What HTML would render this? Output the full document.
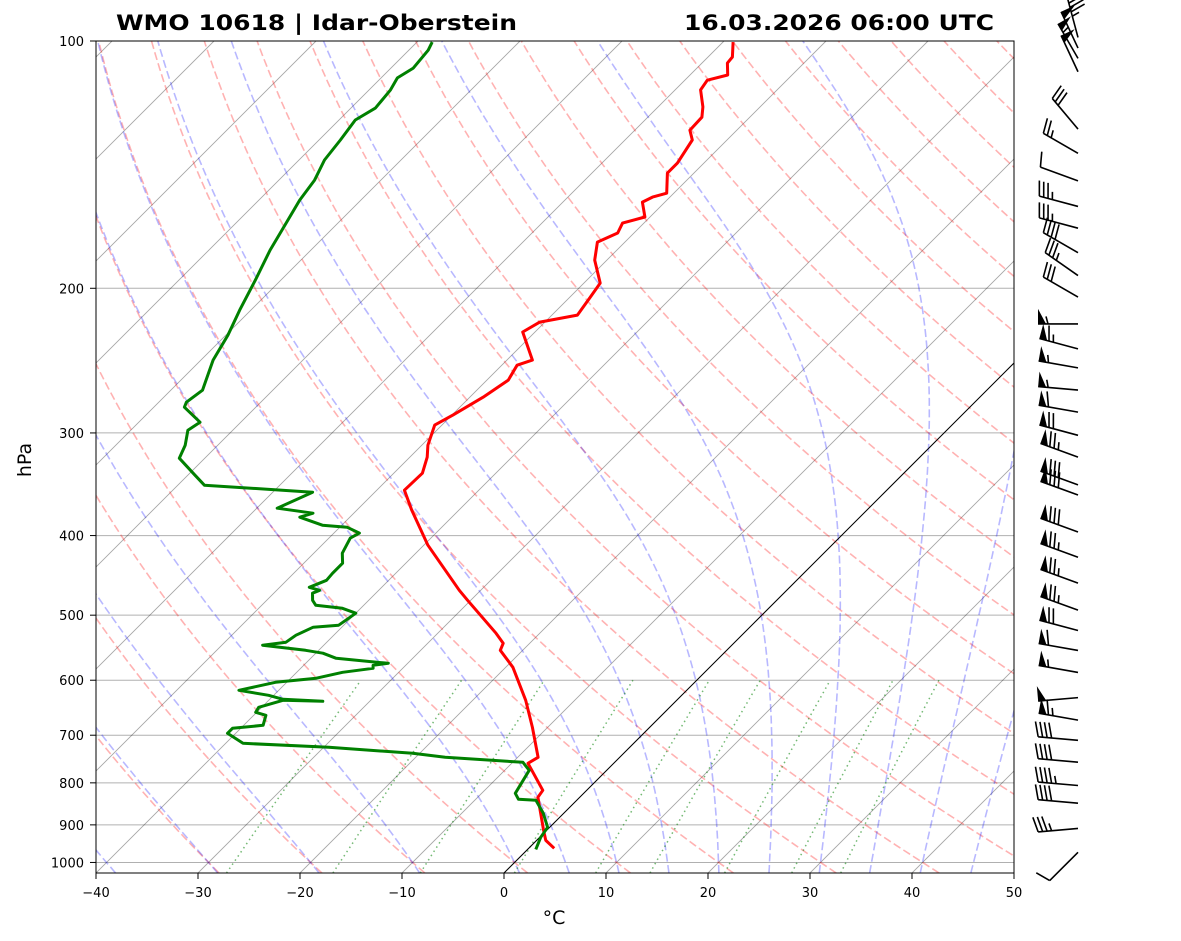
<!DOCTYPE html>
<html><head><meta charset="utf-8">
<style>
html,body{margin:0;padding:0;background:#fff;}
svg{display:block;font-family:"DejaVu Sans","Liberation Sans",sans-serif;}
</style></head>
<body>
<svg id="chart" width="1181" height="941" viewBox="0 0 1181 941" xmlns="http://www.w3.org/2000/svg">
<defs><clipPath id="plotclip"><rect x="96" y="41" width="918" height="832"/></clipPath></defs>
<rect x="0" y="0" width="1181" height="941" fill="#fff"/>
<text x="116" y="30" font-size="21" font-weight="bold" textLength="401" lengthAdjust="spacingAndGlyphs">WMO 10618 | Idar-Oberstein</text>
<text x="684" y="30" font-size="21" font-weight="bold" textLength="310" lengthAdjust="spacingAndGlyphs">16.03.2026 06:00 UTC</text>
<g id="bg" clip-path="url(#plotclip)"></g>
<g id="series" clip-path="url(#plotclip)"></g>
<rect x="96" y="41" width="918" height="832" fill="none" stroke="#000" stroke-width="1"/>
<g id="axes"></g>
<g id="barbs"></g>
<text x="554" y="924" font-size="19" text-anchor="middle">°C</text>
<text x="31" y="460" font-size="19" text-anchor="middle" transform="rotate(-90 31 460)">hPa</text>
</svg>
<script>
// ---- data ----
const tempP=[100.3,104.6,106.4,110.0,111.6,114.7,120.3,123.8,128.4,132.0,140.8,144.8,153.2,154.9,157.1,163.8,166.6,171.3,175.7,184.8,197.1,205.0,215.6,219.9,226.1,244.6,248.1,258.7,271.4,285.4,293.5,310.5,321.1,335.8,352.2,372.6,410.9,466.3,479.6,525.9,541.0,551.7,578.6,634.8,684.7,744.8,757.4,817,833,914,940,961];
const tempT=[-59.0,-57.6,-57.5,-56.3,-57.8,-57.5,-55.6,-54.7,-54.6,-53.4,-52.6,-52.6,-50.7,-51.7,-52.2,-50.5,-52.1,-51.6,-52.7,-51.2,-48.4,-48.0,-47.5,-50.5,-51.2,-47.5,-48.5,-47.9,-48.7,-49.9,-50.7,-49.4,-48.3,-47.2,-47.3,-44.6,-39.6,-32.1,-30.3,-24.3,-22.6,-22.2,-19.3,-14.8,-11.5,-8.0,-8.4,-4.3,-4.1,-0.3,0.9,2.5];
const dewP=[100.3,102.6,107.9,110.9,114.7,120.7,124.8,132.0,139.6,147.7,156.2,167.5,179.7,195.5,212.6,228.1,244.6,266.1,275.2,279.1,291.1,297.7,310.5,322.0,337.7,347.3,354.2,370.5,375.7,379.9,388.6,390.7,397.3,402.9,420.3,432.2,444.6,453.4,462.4,466.3,470.2,479.6,486.3,490.4,497.3,504.3,514.3,517.2,528.9,539.4,543.9,551.7,556.3,564.2,572.2,575.4,580.3,586.8,596.7,603.5,617.2,625.9,632.9,636.5,634.8,647.3,656.5,662.0,680.8,686.6,696.3,716.1,724.2,736.4,744.8,755.3,772.4,823.9,837.8,840.2,871.4,906.2,932,964];
const dewT=[-88.5,-88.1,-87.8,-88.4,-87.9,-87.6,-88.4,-87.9,-87.5,-86.5,-86.0,-85.0,-84.0,-82.5,-81.1,-79.8,-78.8,-76.9,-77.3,-77.0,-74.0,-74.4,-73.2,-72.5,-69.3,-67.4,-56.1,-58.0,-54.0,-54.9,-51.9,-49.3,-47.5,-47.9,-47.2,-46.2,-46.2,-46.1,-47.1,-45.8,-46.2,-45.5,-44.7,-41.8,-40.0,-40.2,-40.5,-42.8,-43.7,-44.0,-46.0,-41.3,-39.3,-37.5,-31.9,-33.2,-32.9,-35.5,-37.5,-41.1,-43.9,-40.5,-38.7,-34.6,-38.6,-40.3,-40.1,-38.8,-38.1,-40.8,-40.8,-38.3,-29.5,-20.7,-17.1,-9.0,-7.6,-6.7,-5.8,-4.0,-2.0,-0.2,0.1,0.8];
const barbP=[99,102,105,109,128,137,148,159,169,181,193,205,221,237,250,266,283,302,321,347,357,396,425,457,493,522,552,587,630,671,710,755,806,847,909,972];
const barbDir=[345,335,330,335,320,300,290,285,285,300,305,300,270,285,280,275,280,285,290,290,290,290,290,290,290,285,280,280,265,280,275,275,275,275,265,225];
const barbSpd=[45,50,55,50,30,25,10,35,35,40,35,30,55,65,55,55,60,70,75,80,80,80,75,75,75,70,60,55,50,65,40,40,45,40,35,10];
const xTicks=[-40,-30,-20,-10,0,10,20,30,40,50];
const pTicks=[100,200,300,400,500,600,700,800,900,1000];
const dryTheta=[-30,-20,-10,0,10,20,30,40,50,60,70,80,90,100,110,120,130,140,150,160,170,180,190,200];
const moistT0=[-50,-40,-30,-20,-10,0,5,10,15,20,25,30,35,40,45];
const mixW=[0.0004,0.001,0.002,0.004,0.007,0.01,0.016,0.024,0.032];

// ---- scales ----
const PBOT=1030, PTOP=100;
function Y(p){return 41+Math.log(p/PTOP)/Math.log(PBOT/PTOP)*832;}
function X(T,p){return 96+(T+40)*10.2+(873-Y(p));}
const NS="http://www.w3.org/2000/svg";
function mk(tag,attrs,parent){const e=document.createElementNS(NS,tag);for(const k in attrs)e.setAttribute(k,attrs[k]);parent.appendChild(e);return e;}
function pts(arr){return arr.map(a=>a[0].toFixed(1)+","+a[1].toFixed(1)).join(" ");}
const bg=document.getElementById('bg'),ser=document.getElementById('series'),ax=document.getElementById('axes'),bb=document.getElementById('barbs');
function logPs(p0,p1,n){const r=[];for(let i=0;i<=n;i++)r.push(p0*Math.pow(p1/p0,i/n));return r;}

// grid
pTicks.forEach(p=>{const y=Y(p);
  const l=mk('line',{x1:96,x2:1014,y1:y,y2:y,stroke:'#b0b0b0','stroke-width':1},bg);
  
  
});
// isotherms
for(let T=-140;T<=50;T+=10){
  const l=mk('line',{x1:X(T,PBOT),y1:Y(PBOT),x2:X(T,PTOP),y2:Y(PTOP),stroke:'rgba(0,0,0,0.35)','stroke-width':0.9},bg);
  
  
}
// dry adiabats
dryTheta.forEach(th=>{const a=logPs(PBOT,PTOP,60).map(p=>[X((th+273.15)*Math.pow(p/1000,0.2857)-273.15,p),Y(p)]);
  const l=mk('polyline',{points:pts(a),fill:'none',stroke:'rgba(255,0,0,0.3)','stroke-width':1.6,'stroke-dasharray':'8,3.5'},bg);
  
  
});
// moist adiabats
function es(Tk){return 6.112*Math.exp(17.67*(Tk-273.15)/(Tk-29.65));}
function dTdp(p,T){const e=es(T);const rs=0.622*e/(p-e);
  return (287.04*T+2.501e6*rs)/(1005.7+(2.501e6*2.501e6*rs*0.622/(287.04*T*T)))/p;}
function integ(T0,p0,p1,n){const out=[[p0,T0]];let T=T0,p=p0;const lp0=Math.log(p0),lp1=Math.log(p1);
  for(let i=1;i<=n;i++){const pn=Math.exp(lp0+(lp1-lp0)*i/n);const h=pn-p;
    const k1=dTdp(p,T),k2=dTdp(p+h/2,T+h/2*k1),k3=dTdp(p+h/2,T+h/2*k2),k4=dTdp(pn,T+h*k3);
    T+=h/6*(k1+2*k2+2*k3+k4);p=pn;out.push([p,T]);}
  return out;}
moistT0.forEach(t0=>{const up=integ(t0+273.15,1000,PTOP,80),dn=integ(t0+273.15,1000,PBOT,4);
  const all=dn.reverse().concat(up.slice(1));
  const a=all.map(q=>[X(q[1]-273.15,q[0]),Y(q[0])]);
  const l=mk('polyline',{points:pts(a),fill:'none',stroke:'rgba(0,0,255,0.28)','stroke-width':1.6,'stroke-dasharray':'8,3.5'},bg);
  
  
});
// mixing ratio lines
mixW.forEach(w=>{const a=logPs(PBOT,600,20).map(p=>{const e=w*p/(0.622+w);const L=Math.log(e/6.112);return [X(243.5*L/(17.67-L),p),Y(p)];});
  const l=mk('polyline',{points:pts(a),fill:'none',stroke:'rgba(0,128,0,0.55)','stroke-width':1.5,'stroke-dasharray':'1.5,3.5'},bg);
  
  
});
// zero isotherm
const z=mk('line',{x1:X(0,PBOT),y1:Y(PBOT),x2:X(0,PTOP),y2:Y(PTOP),stroke:'#000','stroke-width':1},ser);


// profiles
const tl=mk('polyline',{points:pts(tempP.map((p,i)=>[X(tempT[i],p),Y(p)])),fill:'none',stroke:'#ff0000','stroke-width':3,'stroke-linejoin':'round'},ser);


const dl=mk('polyline',{points:pts(dewP.map((p,i)=>[X(dewT[i],p),Y(p)])),fill:'none',stroke:'#008000','stroke-width':3,'stroke-linejoin':'round'},ser);



// axes ticks
xTicks.forEach(t=>{const x=96+(t+40)*10.2;
  const l=mk('line',{x1:x,x2:x,y1:873,y2:879,stroke:'#000','stroke-width':1},ax);
  
  
  const s=mk('text',{x:x,y:897,'font-size':13,'text-anchor':'middle'},ax);s.textContent=(t<0?'\u2212'+(-t):String(t));
  
  
});
pTicks.forEach(p=>{const y=Y(p);
  const l=mk('line',{x1:90,x2:96,y1:y,y2:y,stroke:'#000','stroke-width':1},ax);
  
  
  const s=mk('text',{x:84,y:y+5,'font-size':13,'text-anchor':'end'},ax);s.textContent=String(p);
  
  
});

// wind barbs
const BX=1078,LEN=40,FL=15,SP=4.5;
barbP.forEach((p,i)=>{const y=Y(p);const d=barbDir[i]*Math.PI/180;
  const sx=Math.sin(d),sy=-Math.cos(d);const px=-sy,py=sx;
  const g=mk('g',{},bb);
  
  
  const tx=BX+sx*LEN,ty=y+sy*LEN;
  mk('line',{x1:BX,y1:y,x2:tx,y2:ty,stroke:'#000','stroke-width':1.6},g);
  let spd=Math.round(barbSpd[i]/5)*5;let pos=0;
  const nP=Math.floor(spd/50);spd-=nP*50;const nF=Math.floor(spd/10);spd-=nF*10;const half=spd>=5;
  for(let k=0;k<nP;k++){const ax0=tx-sx*pos,ay0=ty-sy*pos,ax1=tx-sx*(pos+8),ay1=ty-sy*(pos+8);
    mk('polygon',{points:`${ax0},${ay0} ${ax1},${ay1} ${ax0+px*FL},${ay0+py*FL}`,fill:'#000'},g);pos+=9;}
  if(nP>0&&(nF>0||half))pos+=1;
  for(let k=0;k<nF;k++){const ax0=tx-sx*pos,ay0=ty-sy*pos;
    mk('line',{x1:ax0,y1:ay0,x2:ax0+px*FL+sx*4,y2:ay0+py*FL+sy*4,stroke:'#000','stroke-width':1.6},g);pos+=SP;}
  if(half){if(nP===0&&nF===0)pos=SP;const ax0=tx-sx*pos,ay0=ty-sy*pos;
    mk('line',{x1:ax0,y1:ay0,x2:ax0+px*FL/2+sx*2,y2:ay0+py*FL/2+sy*2,stroke:'#000','stroke-width':1.6},g);}
});
</script>
</body></html>
